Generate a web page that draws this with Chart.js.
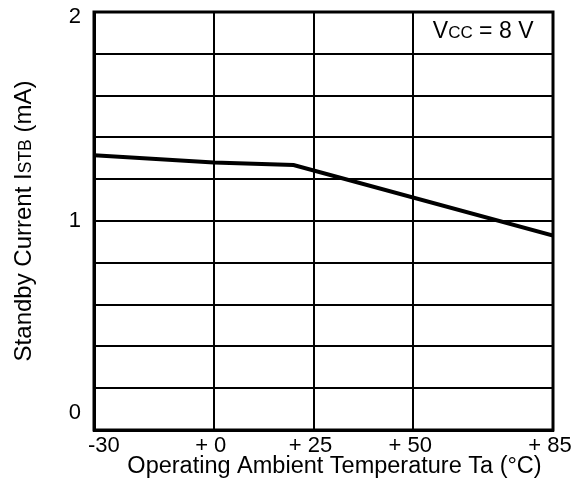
<!DOCTYPE html>
<html>
<head>
<meta charset="utf-8">
<script src="https://cdn.jsdelivr.net/npm/chart.js@4.4.1/dist/chart.umd.min.js"></script>
<style>
  html, body { margin: 0; padding: 0; background: #fff; }
  #wrap { width: 581px; height: 486px; }
</style>
</head>
<body>
<div id="wrap"><canvas id="chart" width="581" height="486"></canvas></div>
<script>
// ****** data ******
const temps = [-30, 0, 20, 85];
const currents = [1.315, 1.28, 1.268, 0.93];
const xTicks = [-30, 0, 25, 50, 85];
const xLabels = ['-30', '+ 0', '+ 25', '+ 50', '+ 85'];
const yLabels = [0, 1, 2];

const FONT = '"Liberation Sans", Arial, sans-serif';

// draws a run of text pieces [text, size] starting at x
function drawRuns(ctx, runs, x, y) {
  runs.forEach(r => {
    ctx.font = r[1] + 'px ' + FONT;
    ctx.fillText(r[0], x, y);
    x += ctx.measureText(r[0]).width;
  });
}
function runsWidth(ctx, runs) {
  let w = 0;
  runs.forEach(r => {
    ctx.font = r[1] + 'px ' + FONT;
    w += ctx.measureText(r[0]).width;
  });
  return w;
}

const decor = {
  id: 'decor',
  afterDraw(chart) {
    const ctx = chart.ctx;
    const a = chart.chartArea;
    const xs = chart.scales.x, ys = chart.scales.y;
    ctx.save();
    ctx.fillStyle = '#000';

    // frame
    ctx.strokeStyle = '#000';
    ctx.lineWidth = 3;
    ctx.strokeRect(a.left, a.top, a.right - a.left, a.bottom - a.top);

    // y tick labels
    ctx.font = '22px ' + FONT;
    ctx.textAlign = 'right';
    ctx.textBaseline = 'middle';
    yLabels.forEach(v => {
      let y = ys.getPixelForValue(v);
      if (v === ys.max) y += 5;
      if (v === ys.min) y -= 17;
      ctx.fillText(String(v), a.left - 13, y);
    });

    // x tick labels
    xTicks.forEach((v, i) => {
      const x = xs.getPixelForValue(v);
      if (i === 0) {
        ctx.textAlign = 'left';
        ctx.fillText(xLabels[i], x - 6, a.bottom + 16);
      } else {
        ctx.textAlign = 'center';
        ctx.fillText(xLabels[i], x - 3, a.bottom + 16);
      }
    });

    // x title
    ctx.textAlign = 'center';
    ctx.font = '23.5px ' + FONT;
    ctx.fillText('Operating Ambient Temperature Ta (°C)', (a.left + a.right) / 2 + 11, a.bottom + 37);

    // y title, with small caps subscript
    ctx.textAlign = 'left';
    ctx.textBaseline = 'alphabetic';
    const yRuns = [['Standby Current I', 24], ['STB', 17.5], [' (mA)', 24]];
    const w = runsWidth(ctx, yRuns);
    ctx.translate(31, (a.top + a.bottom) / 2);
    ctx.rotate(-Math.PI / 2);
    drawRuns(ctx, yRuns, -w / 2, 0);
    ctx.setTransform(1, 0, 0, 1, 0, 0);

    // supply note in the top right cell
    const vRuns = [['V', 23], ['CC', 17], [' = 8 V', 23]];
    const vw = runsWidth(ctx, vRuns);
    const cx = (xs.getPixelForValue(50) + a.right) / 2;
    drawRuns(ctx, vRuns, cx - vw / 2, a.top + 26);

    ctx.restore();
  }
};

new Chart(document.getElementById('chart'), {
  type: 'line',
  data: {
    datasets: [{
      data: temps.map((t, i) => ({ x: t, y: currents[i] })),
      borderColor: '#000',
      borderWidth: 4,
      pointRadius: 0,
      tension: 0,
      fill: false
    }]
  },
  options: {
    responsive: false,
    animation: false,
    layout: { padding: { top: 12, right: 28, left: 0, bottom: 0 } },
    plugins: { legend: { display: false }, tooltip: { enabled: false } },
    scales: {
      x: {
        type: 'linear',
        min: -30,
        max: 85,
        afterBuildTicks: s => { s.ticks = xTicks.map(v => ({ value: v })); },
        afterFit: s => { s.height = 56; },
        ticks: { display: false },
        grid: { color: '#000', lineWidth: 2, drawTicks: false },
        border: { color: '#000', width: 3 }
      },
      y: {
        min: 0,
        max: 2,
        ticks: { display: false, stepSize: 0.2 },
        afterFit: s => { s.width = 94; },
        grid: { color: '#000', lineWidth: 2, drawTicks: false },
        border: { color: '#000', width: 3 }
      }
    }
  },
  plugins: [decor]
});
</script>
</body>
</html>
